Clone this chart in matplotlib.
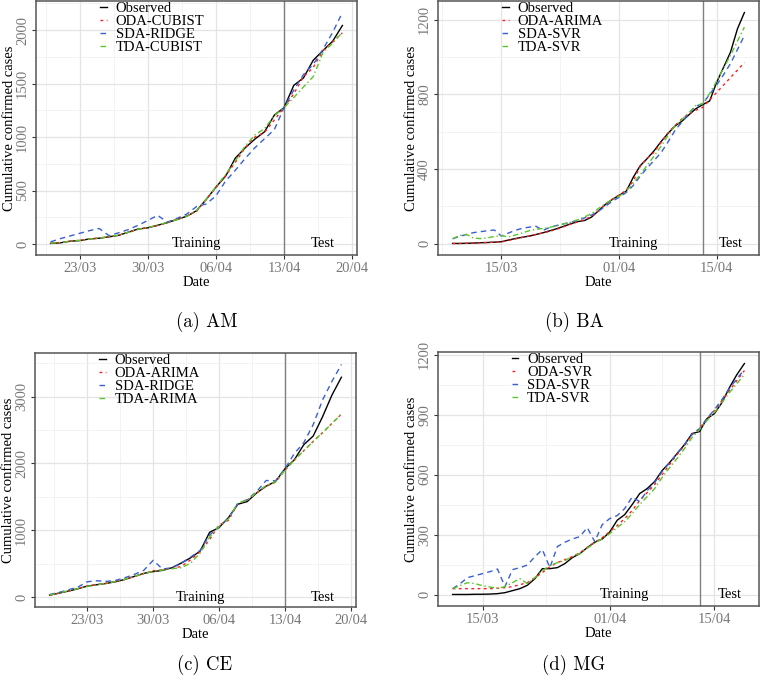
import numpy as np
import matplotlib
matplotlib.use("Agg")
import matplotlib.pyplot as plt
import matplotlib.dates as mdates
from matplotlib.ticker import FixedLocator

# ---------------- data ----------------
# (a) AM : daily from 20/03/2020
am_start = "2020-03-20"
am_labels = ["Observed", "ODA-CUBIST", "SDA-RIDGE", "TDA-CUBIST"]
am_observed = [5, 11, 26, 32, 47, 54, 67, 81, 111, 140, 151, 175, 200, 229, 260, 311, 417, 532, 636, 804,
               899, 981, 1050, 1206, 1275, 1484, 1554, 1719, 1809, 1897, 2044]
am_oda = [8, 14, 25, 35, 46, 56, 68, 84, 108, 137, 155, 173, 198, 230, 262, 305, 420, 528, 640, 765,
          900, 1000, 1045, 1160, 1275, 1405, 1565, 1650, 1810, 1890, 1975]
am_sda = [20, 50, 75, 100, 125, 145, 78, 105, 135, 175, 220, 268, 205, 240, 280, 350, 375, 450, 590, 690,
          800, 900, 985, 1070, 1275, 1440, 1585, 1680, 1820, 1980, 2165]
am_tda = [7, 13, 26, 34, 47, 55, 70, 83, 110, 138, 153, 178, 202, 228, 258, 315, 415, 535, 650, 780,
          915, 1020, 1080, 1200, 1275, 1370, 1470, 1565, 1790, 1880, 1980]
am_xticks = ["23/03", "30/03", "06/04", "13/04", "20/04"]
am_yticks = [0, 500, 1000, 1500, 2000]

# (b) BA : daily from 08/03/2020
ba_start = "2020-03-08"
ba_labels = ["Observed", "ODA-ARIMA", "SDA-SVR", "TDA-SVR"]
ba_observed = [2, 2, 3, 4, 6, 7, 9, 11, 20, 28, 35, 41, 50, 59, 70, 81, 94, 107, 119, 125,
               143, 177, 211, 238, 260, 282, 356, 418, 456, 498, 547, 591, 630, 656, 690, 723,
               745, 765, 864, 945, 1026, 1151, 1238]
ba_oda = [2, 2, 3, 4, 5, 7, 9, 10, 17, 26, 34, 42, 50, 58, 67, 78, 91, 105, 117, 130,
          147, 175, 212, 240, 262, 287, 336, 415, 458, 490, 542, 594, 633, 669, 696, 715,
          730, 770, 810, 850, 890, 930, 970]
ba_sda = [27, 40, 50, 60, 65, 70, 74, 42, 57, 72, 83, 89, 94, 72, 88, 98, 107, 115, 125, 139,
          154, 175, 201, 228, 250, 275, 312, 362, 406, 446, 488, 545, 606, 652, 695, 737,
          750, 800, 850, 905, 965, 1040, 1115]
ba_tda = [27, 45, 50, 31, 28, 32, 39, 44, 37, 47, 58, 70, 78, 82, 88, 97, 107, 116, 129, 144,
          162, 189, 216, 238, 255, 282, 325, 370, 420, 470, 522, 580, 630, 665, 702, 740,
          750, 805, 870, 940, 1010, 1085, 1160]
ba_xticks = ["15/03", "01/04", "15/04"]
ba_yticks = [0, 400, 800, 1200]

# (c) CE : daily from 19/03/2020
ce_start = "2020-03-19"
ce_labels = ["Observed", "ODA-ARIMA", "SDA-RIDGE", "TDA-ARIMA"]
ce_observed = [30, 60, 90, 125, 165, 185, 205, 230, 265, 310, 355, 382, 400, 440, 510, 590,
               690, 970, 1040, 1190, 1390, 1430, 1560, 1660, 1730, 1920, 2055, 2280, 2410, 2700, 3025, 3290]
ce_oda = [25, 60, 90, 130, 165, 185, 205, 235, 265, 310, 350, 395, 410, 430, 460, 560,
          680, 860, 1080, 1150, 1400, 1450, 1560, 1660, 1720, 1900, 2050, 2190, 2330, 2460, 2600, 2740]
ce_sda = [40, 70, 110, 150, 230, 245, 235, 250, 290, 340, 400, 550, 420, 440, 510, 600,
          700, 930, 1050, 1180, 1400, 1460, 1580, 1745, 1740, 1920, 2150, 2310, 2580, 2950, 3230, 3480]
ce_tda = [30, 65, 95, 128, 160, 185, 208, 232, 268, 312, 352, 385, 405, 425, 440, 510,
          660, 900, 1060, 1170, 1410, 1450, 1570, 1670, 1725, 1900, 2050, 2190, 2330, 2460, 2600, 2740]
ce_xticks = ["23/03", "30/03", "06/04", "13/04", "20/04"]
ce_yticks = [0, 1000, 2000, 3000]

# (d) MG : daily from 11/03/2020
mg_start = "2020-03-11"
mg_labels = ["Observed", "ODA-SVR", "SDA-SVR", "TDA-SVR"]
mg_observed = [1, 1, 1, 2, 2, 3, 5, 10, 20, 30, 47, 80, 130, 130, 135, 155, 185, 205, 235, 262,
               278, 313, 372, 400, 450, 505, 530, 565, 620, 660, 705, 750, 805, 815, 880, 905,
               960, 1035, 1100, 1155]
mg_oda = [30, 30, 30, 30, 30, 30, 32, 35, 40, 50, 60, 85, 110, 140, 160, 175, 190, 210, 235, 262,
          285, 315, 345, 380, 420, 470, 510, 550, 600, 650, 700, 745, 800, 830, 880, 920,
          970, 1020, 1070, 1120]
mg_sda = [30, 55, 85, 95, 105, 115, 128, 40, 125, 135, 148, 190, 225, 135, 240, 262, 278, 290, 335, 265,
          350, 380, 395, 430, 488, 465, 520, 560, 615, 660, 705, 750, 800, 830, 880, 925,
          975, 1030, 1080, 1125]
mg_tda = [30, 45, 60, 55, 45, 38, 32, 40, 60, 80, 55, 85, 120, 145, 160, 170, 190, 205, 232, 258,
          280, 305, 335, 365, 405, 450, 490, 530, 585, 635, 680, 730, 785, 825, 870, 910,
          960, 1010, 1055, 1100]
mg_xticks = ["15/03", "01/04", "15/04"]
mg_yticks = [0, 300, 600, 900, 1200]

split_date = "13/04"
test_text_date = "17/04"

# ---------------- style ----------------
plt.rcParams['font.family'] = ['Liberation Serif', 'DejaVu Serif']

STYLES = [dict(color='black', lw=1.0, ls='-'),
          dict(color='#ff1f1f', lw=1.0, ls=(0, (2, 2.5))),
          dict(color='#3b5fd0', lw=1.0, ls=(0, (4, 3))),
          dict(color='#5cc42c', lw=1.0, ls=(0, (4, 2, 1, 2)))]

W, H = 760, 683
fig = plt.figure(figsize=(W / 100, H / 100), dpi=100)


def dnum(s):
    d, m = s.split('/')
    return mdates.date2num(np.datetime64(f"2020-{m}-{d}"))


def midpoints(v):
    v = list(v)
    mids = [(a + b) / 2 for a, b in zip(v[:-1], v[1:])]
    mids = [v[0] - (v[1] - v[0]) / 2] + mids + [v[-1] + (v[-1] - v[-2]) / 2]
    return mids


def panel(box, start, series, labels, xticks, yticks, train_date, caption, cap_xy, leg_x):
    l, t, r, b = box
    ax = fig.add_axes([l / W, 1 - b / H, (r - l) / W, (b - t) / H])
    n = len(series[0])
    dates = np.datetime64(start) + np.arange(n)
    for vals, lab, st in zip(series, labels, STYLES):
        ax.plot(dates, vals, label=lab, zorder=3, **st)
    ax.margins(x=0.05, y=0.05)
    xl = ax.get_xlim()
    yl = ax.get_ylim()
    ax.axvline(dnum(split_date), color='#808080', lw=1.0, zorder=2)
    ax.set_xlim(xl)
    ax.set_ylim(yl)

    xt = [dnum(s) for s in xticks]
    ax.xaxis.set_major_locator(FixedLocator(xt))
    ax.xaxis.set_minor_locator(FixedLocator(midpoints(xt)))
    ax.set_xticklabels(xticks)
    ax.yaxis.set_major_locator(FixedLocator(yticks))
    ax.yaxis.set_minor_locator(FixedLocator(midpoints(yticks)))
    ax.set_yticklabels([str(v) for v in yticks])
    for lab in ax.get_yticklabels():
        lab.set_rotation(90)
        lab.set_va('center')
        lab.set_ha('right')

    ax.grid(which='major', color='#e4e4e4', lw=0.9, zorder=0)
    ax.grid(which='minor', color='#f1f1f1', lw=0.6, zorder=0)
    ax.set_axisbelow(True)
    ax.tick_params(which='major', length=3, width=0.8, color='#333333', labelsize=10.5,
                   labelcolor='#777777', pad=2)
    ax.tick_params(which='minor', length=0)
    for sp in ax.spines.values():
        sp.set_color('#555555')
        sp.set_linewidth(1.1)

    ax.set_xlabel('Date', fontsize=10.5, labelpad=1)
    ax.set_ylabel('Cumulative confirmed cases', fontsize=10.5, labelpad=0)

    ax.text(dnum(train_date), 0, 'Training', ha='center', va='center', fontsize=10.5)
    ax.text(dnum(test_text_date), 0, 'Test', ha='center', va='center', fontsize=10.5)

    ax.legend(loc='upper left', bbox_to_anchor=(leg_x, 0.995), frameon=False, fontsize=10.5,
              handlelength=0.45, handletextpad=0.6, labelspacing=-0.02, borderpad=0,
              borderaxespad=0)

    fig.text(cap_xy[0] / W, 1 - cap_xy[1] / H, caption, family='cmr10', fontsize=13.5,
             ha='center', va='center')
    return ax


panel((36, 1, 357, 255), am_start, [am_observed, am_oda, am_sda, am_tda], am_labels,
      am_xticks, am_yticks, "04/04", "(a) AM", (207, 322), 0.2)
panel((438, 1, 759, 255), ba_start, [ba_observed, ba_oda, ba_sda, ba_tda], ba_labels,
      ba_xticks, ba_yticks, "03/04", "(b) BA", (574, 322), 0.2)
panel((35, 353, 356, 607), ce_start, [ce_observed, ce_oda, ce_sda, ce_tda], ce_labels,
      ce_xticks, ce_yticks, "04/04", "(c) CE", (205, 665), 0.2)
panel((438, 352, 759, 606), mg_start, [mg_observed, mg_oda, mg_sda, mg_tda], mg_labels,
      mg_xticks, mg_yticks, "03/04", "(d) MG", (574, 665), 0.23)

fig.savefig('out.png', dpi=100)
